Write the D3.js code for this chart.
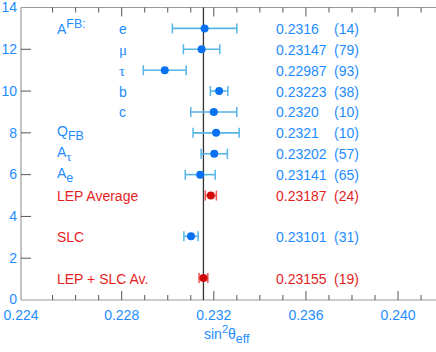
<!DOCTYPE html>
<html><head><meta charset="utf-8">
<script src="https://cdn.jsdelivr.net/npm/d3@7"></script>
<style>
body{margin:0;background:#fff}
svg{display:block}
text{font-family:"Liberation Sans",Arial,Helvetica,sans-serif}
</style>
</head><body>
<svg id="c" width="436" height="352"></svg>
<script>
// ---- data ----
const labelMain = ["e","μ","τ","b","c","Q","A","A","LEP Average","SLC","LEP + SLC Av."];
const labelSub  = ["","","","","","FB","τ","e","","",""];
const rowPos    = [13,12,11,10,9,8,7,6,5,3.05,1.05];
const values    = [0.2316,0.23147,0.22987,0.23223,0.2320,0.2321,0.23202,0.23141,0.23187,0.23101,0.23155];
const errors    = [0.0014,0.00079,0.00093,0.00038,0.0010,0.0010,0.00057,0.00065,0.00024,0.00031,0.00019];
const valueLabels = ["0.2316","0.23147","0.22987","0.23223","0.2320","0.2321","0.23202","0.23141","0.23187","0.23101","0.23155"];
const errorLabels = ["(14)","(79)","(93)","(38)","(10)","(10)","(57)","(65)","(24)","(31)","(19)"];
const redLabel  = [false,false,false,false,false,false,false,false,true,true,true];
const redPoint  = [false,false,false,false,false,false,false,false,true,false,true];
const average   = 0.23155;
const groupHeader = "A";
const groupHeaderSup = "FB:";
const xMajorTicks = [0.228,0.232,0.236,0.240];
const xMinorTicks = [0.225,0.226,0.227,0.229,0.230,0.231,0.233,0.234,0.235,0.237,0.238,0.239,0.241];
const xTickLabels = ["0.224","0.228","0.232","0.236","0.240"];
const yTicks = [0,2,4,6,8,10,12,14];

// ---- layout ----
const L = 21, R = 436, T = 7.5, B = 300;
const x = d3.scaleLinear().domain([0.2236283, 0.241648]).range([L, R]);
const y = d3.scaleLinear().domain([0, 14]).range([B, T]);

const BLUE_TXT = "#1e8cff", BLUE_PT = "#0a72f2", BLUE_BAR = "#55b6e6";
const RED_TXT = "#e41e1e", RED_PT = "#d00a0a", RED_BAR = "#f05050";
const AXIS = "#9a9a9a", TICK = "#555";

const svg = d3.select("#c");

// frame lines
svg.append("line").attr("x1",L).attr("x2",R).attr("y1",T).attr("y2",T).attr("stroke",AXIS).attr("stroke-width",1.2);
svg.append("line").attr("x1",L).attr("x2",R).attr("y1",B).attr("y2",B).attr("stroke",AXIS).attr("stroke-width",1.2);
svg.append("line").attr("x1",L).attr("x2",L).attr("y1",T).attr("y2",B).attr("stroke",AXIS).attr("stroke-width",1.2);

// x ticks bottom & top
const tickG = svg.append("g").attr("stroke",TICK).attr("stroke-width",1);
xMajorTicks.forEach(v=>{
  tickG.append("line").attr("x1",x(v)).attr("x2",x(v)).attr("y1",B).attr("y2",B-9);
  tickG.append("line").attr("x1",x(v)).attr("x2",x(v)).attr("y1",T).attr("y2",T+9);
});
xMinorTicks.forEach(v=>{
  tickG.append("line").attr("x1",x(v)).attr("x2",x(v)).attr("y1",B).attr("y2",B-5);
  tickG.append("line").attr("x1",x(v)).attr("x2",x(v)).attr("y1",T).attr("y2",T+5);
});
// y ticks
yTicks.filter(v=>v>0 && v<14).forEach(v=>{
  tickG.append("line").attr("x1",L).attr("x2",L+10).attr("y1",y(v)).attr("y2",y(v));
});

// x tick labels
const xLabelPos = [x.domain()[0]].concat(xMajorTicks);
svg.append("g").selectAll("text").data(xTickLabels).join("text")
  .attr("x",(d,i)=>x(xLabelPos[i])).attr("y",320)
  .attr("text-anchor","middle").attr("font-size",14).attr("fill",BLUE_TXT).text(d=>d);
// y tick labels
svg.append("g").selectAll("text").data(yTicks).join("text")
  .attr("x",17).attr("y",d=>y(d)+(d===0?3.8:4.8))
  .attr("text-anchor","end").attr("font-size",14).attr("fill",BLUE_TXT).text(d=>d);

// axis title
const ttl = svg.append("text").attr("x",204).attr("y",339).attr("font-size",14).attr("fill",BLUE_TXT);
ttl.append("tspan").text("sin");
ttl.append("tspan").attr("dy",-6).attr("font-size",11).text("2");
ttl.append("tspan").attr("dy",6).text("θ");
ttl.append("tspan").attr("dy",4).attr("font-size",12.5).text("eff");

// average line
svg.append("line").attr("x1",x(average)).attr("x2",x(average)).attr("y1",T).attr("y2",B)
  .attr("stroke","#333").attr("stroke-width",1.3);

// error bars
const eb = svg.append("g").selectAll("g").data(values).join("g");
eb.append("line").attr("x1",(d,i)=>x(d-errors[i])).attr("x2",(d,i)=>x(d+errors[i]))
  .attr("y1",(d,i)=>y(rowPos[i])).attr("y2",(d,i)=>y(rowPos[i]))
  .attr("stroke",(d,i)=>redPoint[i]?RED_BAR:BLUE_BAR).attr("stroke-width",1.6);
[-1,1].forEach(s=>{
  eb.append("line").attr("x1",(d,i)=>x(d+s*errors[i])).attr("x2",(d,i)=>x(d+s*errors[i]))
    .attr("y1",(d,i)=>y(rowPos[i])-5).attr("y2",(d,i)=>y(rowPos[i])+5)
    .attr("stroke",(d,i)=>redPoint[i]?RED_BAR:BLUE_BAR).attr("stroke-width",1.5);
});
eb.append("circle").attr("cx",d=>x(d)).attr("cy",(d,i)=>y(rowPos[i])).attr("r",4)
  .attr("fill",(d,i)=>redPoint[i]?RED_PT:BLUE_PT);

// value text
svg.append("g").selectAll("text").data(valueLabels).join("text")
  .attr("x",276).attr("y",(d,i)=>y(rowPos[i])+5.5).attr("font-size",14)
  .attr("fill",(d,i)=>redPoint[i]?RED_TXT:BLUE_TXT).text(d=>d);
svg.append("g").selectAll("text").data(errorLabels).join("text")
  .attr("x",334).attr("y",(d,i)=>y(rowPos[i])+5.5).attr("font-size",14)
  .attr("fill",(d,i)=>redPoint[i]?RED_TXT:BLUE_TXT).text(d=>d);

// group header A^FB:
const gh = svg.append("text").attr("x",57).attr("y",y(rowPos[0])+5.5).attr("font-size",14).attr("fill",BLUE_TXT);
gh.append("tspan").text(groupHeader);
gh.append("tspan").attr("dy",-6).attr("font-size",12.5).text(groupHeaderSup);

// row labels
labelMain.forEach((t,i)=>{
  const sub = i<5;
  const greek = /[μτ]/.test(t);
  const tx = svg.append("text")
    .attr("x", sub ? 119 : 57)
    .attr("y", y(rowPos[i]) + (labelSub[i] ? 3.5 : 5.5))
    .attr("font-size",14)
    .attr("fill", redLabel[i] ? RED_TXT : BLUE_TXT);
  const m = tx.append("tspan").text(t);
  if (greek) m.attr("font-family","'Liberation Serif','DejaVu Serif',serif").attr("font-size",15);
  if (labelSub[i]) {
    const s = tx.append("tspan").attr("dy",4).attr("font-size",12.5).text(labelSub[i]);
    if (/[τ]/.test(labelSub[i])) s.attr("font-family","'Liberation Serif','DejaVu Serif',serif").attr("font-size",13);
  }
});
</script>
</body></html>
